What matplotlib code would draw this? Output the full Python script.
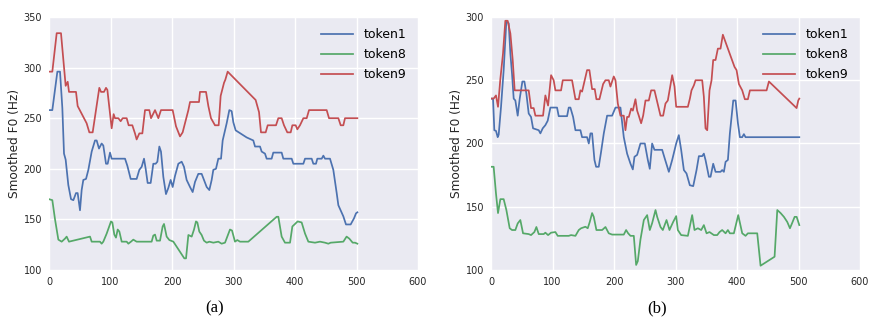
import matplotlib
matplotlib.use("Agg")
import matplotlib.pyplot as plt

# (a) smoothed F0 contours
a_t1_x = [0, 5.4, 13.6, 17.9, 21.7, 24.4, 27.1, 31.4, 35.8, 39.6, 43.9, 46.6, 50.4, 53.1, 55.8, 60.2,
          64.0, 69.4, 74.8, 77.5, 81.3, 85.6, 88.3, 92.7, 95.4, 99.2, 101.9, 123.6, 127.4, 132.8, 142.5,
          146.9, 150.7, 154.5, 157.2, 160.4, 165.3, 169.6, 173.4, 176.2, 179.4, 182.1, 185.9, 190.2, 194,
          197.8, 201.1, 204.9, 210.3, 215.7, 219.5, 223.8, 229.3, 233.6, 237.4, 242.8, 248.2, 252, 256.4,
          260.7, 264.5, 267.2, 271.5, 275.3, 279.7, 282.4, 288.9, 293.2, 297, 299.7, 303.5, 321.4, 332.2,
          335, 343.1, 345.8, 351.2, 353.9, 362, 364.7, 378.3, 381, 394.6, 397.3, 413.6, 416.3, 427.1,
          429.8, 434.1, 436.3, 443.4, 446.1, 448.8, 456.9, 462.3, 467.8, 470.5, 478.6, 482.9, 490.5,
          495.9, 499.2, 501.4]
a_t1_y = [258, 258, 296, 296, 260, 215, 209, 184, 170, 169, 176, 176, 159, 179, 189, 190,
          199, 217, 228, 228, 220, 225, 223, 205, 205, 216, 210, 210, 203, 190, 190,
          199, 202, 210, 200, 186, 186, 205, 205, 207, 222, 217, 192, 175, 181,
          189, 182, 193, 205, 207, 202, 189, 182, 177, 187, 195, 195, 189, 182,
          179, 189, 199, 200, 210, 210, 228, 245, 258, 257, 246, 238, 231, 228,
          222, 222, 217, 215, 210, 210, 216, 216, 210, 210, 205, 205, 210, 210,
          205, 205, 210, 210, 213, 210, 210, 199, 176, 164, 153, 145, 145,
          151, 156, 157]

a_t8_x = [0, 5.4, 9.8, 15.2, 20.6, 26, 28.7, 32.5, 66.7, 69.4, 82.9, 85.6, 88.3, 93.8, 100.8, 103,
          106.2, 108.9, 111.7, 114.4, 118.2, 126.3, 129, 133.3, 137.1, 139.8, 142.5, 166.9, 169.6,
          172.4, 175.1, 180.5, 184.8, 187, 191.3, 195.7, 202.2, 207.6, 220, 222.8, 226.6, 232, 235.8,
          239, 241.2, 244.4, 248.2, 252, 256.4, 260.7, 267.2, 275.3, 280.7, 286.2, 294.3, 297.6, 302.4,
          306.2, 310.6, 324.1, 370.2, 372.9, 378.3, 383.7, 391.9, 395.7, 400, 404.3, 410.8, 416.3,
          421.7, 432.5, 440.7, 448.8, 454.2, 458, 478.6, 483.9, 488.3, 493.8, 497.6, 501.4]
a_t8_y = [170, 169, 150, 130, 128, 131, 133, 128, 133, 128, 128, 126, 128, 136, 148, 147,
          135, 132, 140, 138, 128, 128, 126, 128, 130, 129, 128, 128, 134,
          135, 129, 129, 143, 145.5, 133, 129.6, 128, 123, 111.5, 111.5, 134.6, 133, 140,
          148, 147, 138, 134.6, 129, 127, 128, 127, 128, 126, 127, 140, 139, 128,
          129.6, 128, 128, 152.6, 152.6, 133, 127, 127, 143, 145.5, 148, 147, 136,
          128, 127, 128, 127, 126, 127, 128, 133, 131, 127, 127, 126]

a_t9_x = [0, 5.4, 12.5, 19.5, 27.1, 30.4, 32.5, 43.9, 46.6, 61.2, 65.6, 71, 81.8, 84.6, 89.4, 92.7,
          94.9, 101.9, 105.1, 107.3, 112.7, 116.5, 119.8, 126.3, 129.5, 135.5, 139.8, 142.5, 146.9,
          151.8, 156.1, 163.1, 165.9, 172.4, 177.8, 182.1, 201.1, 206.5, 213, 217.3, 226.6, 229.3,
          243.9, 245.5, 255.3, 259.1, 263.4, 269.9, 275.9, 279.1, 284.6, 286.7, 290.5, 336, 341.5,
          344.7, 352.3, 355.6, 369.1, 372.9, 378.3, 382.1, 387.5, 393, 395.7, 401.1, 403.8, 408.1,
          413.6, 419, 422.8, 451.5, 455.3, 470.5, 474.3, 478.6, 481.3, 501.4]
a_t9_y = [296, 296, 334, 334, 282, 286, 276, 276, 262, 245, 236, 236, 280, 276, 276, 280,
          278, 240, 254, 250, 250, 247, 250, 250, 243, 243, 235, 229, 235,
          235, 258, 258, 250, 258, 250, 258, 258, 242, 232, 236, 258, 266,
          266, 276, 276, 262, 250, 243, 243, 272, 285, 288, 296, 268, 256,
          236, 236, 243, 243, 250, 250, 243, 236, 236, 243, 243, 239, 243,
          250, 250, 258, 258, 250, 250, 243, 243, 250, 250]

# (b) smoothed F0 contours
b_t1_x = [0, 3.3, 5.4, 8.1, 10.9, 12.5, 16.3, 20.6, 25, 28.8, 31.5, 34.2, 36.9, 39.6, 43.4, 46.7,
          51, 54.3, 57.5, 61.3, 65.1, 68.4, 77.6, 80.3, 84.1, 88.4, 92.2, 96.6, 107.4, 110.1, 123.7,
          126.4, 129.1, 133.5, 137.3, 145.4, 148.1, 156.2, 159, 161.7, 164.4, 168.2, 170.9, 175.2,
          179, 183.4, 188.8, 196.9, 202.4, 210.5, 215.9, 221.3, 226.8, 230.6, 233.3, 237.6, 243,
          250.1, 255, 258.2, 262, 265.8, 278.3, 282.6, 289.2, 294.6, 301.1, 305.4, 309.2, 313.6,
          317.9, 323.3, 328.8, 334.2, 338, 343.4, 346.1, 348.8, 354.3, 357, 361.3, 365.1, 373.2,
          375.9, 378.7, 381.4, 385.2, 388.4, 393.9, 397.7, 401.5, 404.7, 408.5, 411.2, 413.9, 501.3]
b_t1_y = [235.5, 235.5, 210.5, 210, 205, 207, 229, 258, 297, 295, 271, 255, 235.5, 234, 222, 235.5,
          249, 249, 239.5, 223.7, 221, 212, 210.5, 208, 212, 214.5, 218, 228.4, 228.4, 221.6, 221.6,
          228.4, 228.4, 221, 210.5, 210.5, 205, 205, 200, 208, 208, 187, 181.6, 181.6,
          193.4, 208, 222, 222, 228.4, 228.4, 205, 192, 184, 179.5, 189.5, 191, 200,
          200, 187, 180, 200, 195, 195, 188, 177.6, 187, 200, 206.6, 195, 179,
          176.3, 167, 166.3, 179, 190, 190, 192, 187, 173.7, 173.7, 184, 177.6, 177.6,
          179, 177.6, 185.5, 187, 208, 234, 234, 216, 205, 205, 207.4, 205, 205]

b_t8_x = [0, 4.3, 8.1, 11.4, 15.2, 20.6, 25, 30.4, 34.2, 39.6, 43.4, 47.7, 52.1, 61.3, 65.1, 70.5,
          73.8, 77.6, 85.7, 88.4, 92.8, 97.7, 104.7, 108.5, 126.4, 130.2, 137.3, 142.7, 146.5, 153.5,
          157.3, 160.6, 164.4, 167.1, 171.4, 180.7, 186.1, 191.5, 196.9, 215.9, 219.7, 223, 226.8,
          232.2, 236, 238.7, 243, 248.5, 253.9, 258.2, 262, 267.5, 270.2, 275.6, 279.4, 285.4, 290.2,
          296.2, 301.1, 303.8, 309.2, 320.1, 327.1, 330.9, 336.3, 341.8, 346.1, 350.5, 355.3, 362.4,
          367.8, 371.6, 375.9, 381.4, 385.2, 388.4, 394.9, 402, 408.5, 413.9, 417.7, 432.9, 438.3,
          461.1, 465.5, 470.9, 476.3, 481.7, 486.1, 489.9, 493.7, 497, 501.3]
b_t8_y = [181.6, 181.6, 160.5, 145, 156, 156, 147.4, 133, 131.6, 131.6, 136.8, 139.5, 129, 128.4, 127.6, 130,
          134, 128.4, 128.4, 129.5, 127.6, 129.5, 130, 127, 127, 127.6, 127, 131.6, 133, 134.2,
          133, 138, 145, 142, 131.6, 131.6, 134, 129, 128, 128, 131.6, 129, 127,
          127, 104, 107, 124, 139.5, 143.4, 131.6, 137, 147.4, 142, 134, 131.6, 139.5, 131.6,
          138, 142.6, 131.6, 127.6, 127, 143.4, 131.6, 133, 131.6, 135.5, 129, 130, 127.6,
          127.6, 130, 131.6, 129, 131.6, 129, 129, 143.4, 129, 127, 129, 129, 103.4,
          110.5, 147.4, 145, 142, 138, 133, 137.4, 142, 142, 135.5]

b_t9_x = [0, 4.3, 8.1, 11.4, 15.2, 19.5, 23.3, 27.1, 31.5, 35.3, 38.5, 42.3, 61.3, 65.1, 69.4, 72.2,
          84.6, 88.4, 92.8, 97.7, 101.9, 104.7, 113.9, 116.7, 131.8, 137.3, 142.7, 145.4, 148.1, 151.9,
          156.2, 160, 164.4, 168.7, 171.4, 176.3, 182.3, 186.1, 191.5, 194.2, 199.6, 202.4, 206.2,
          210.5, 215.9, 218.6, 221.3, 224.1, 227.9, 230.6, 234.9, 237.6, 240.3, 244.1, 247.4, 251.2,
          256.6, 260.4, 265.8, 270.2, 275.6, 279.9, 283.7, 287.5, 294.6, 298.4, 301.1, 320.1, 323.4,
          326, 329.9, 332.6, 343.4, 346.1, 348.8, 351.6, 355.3, 358.6, 361.3, 365.1, 368.9, 373.2,
          377, 396, 399.3, 403.1, 408.5, 412.8, 417.7, 421, 448.1, 451.9, 496.9, 499.6, 501.3]
b_t9_y = [235.5, 235.5, 238, 229, 251, 271, 297, 297, 287, 266, 242, 242, 242, 228, 228, 222,
          222, 238, 230, 254, 250, 242, 242, 250, 250, 235, 235, 242, 241, 249,
          258, 258, 243, 243, 235, 235, 247, 250, 250, 245, 253, 250, 231.6,
          222, 222, 210.5, 221, 221, 227.6, 226, 235, 226, 222, 216, 222, 234,
          234, 242, 242, 233, 222, 222, 231.6, 234, 254, 245, 229, 229, 235.5,
          242, 246, 250, 250, 237, 212, 210.5, 242, 250, 266, 266, 275, 275,
          286, 260.5, 258, 247, 242, 235, 235, 242, 242, 249, 228, 234, 235.5]

labels = ["token1", "token8", "token9"]
colors = ["#4C72B0", "#55A868", "#C44E52"]

plt.rcParams.update({
    "font.family": "DejaVu Sans",
    "axes.facecolor": "#EAEAF2",
    "axes.edgecolor": "white",
    "axes.linewidth": 0,
    "grid.color": "white",
    "grid.linewidth": 1.0,
    "xtick.color": "#262626",
    "ytick.color": "#262626",
    "xtick.labelsize": 7,
    "ytick.labelsize": 7,
    "xtick.major.size": 0,
    "ytick.major.size": 0,
})

fig = plt.figure(figsize=(8.88, 3.22), dpi=100)
ax1 = fig.add_axes([49 / 888, 52 / 322, 369 / 888, 253 / 322])
ax2 = fig.add_axes([491 / 888, 52 / 322, 369 / 888, 253 / 322])

panels = [
    (ax1, [(a_t1_x, a_t1_y), (a_t8_x, a_t8_y), (a_t9_x, a_t9_y)], (100, 350), "(a)"),
    (ax2, [(b_t1_x, b_t1_y), (b_t8_x, b_t8_y), (b_t9_x, b_t9_y)], (100, 300), "(b)"),
]

for ax, series, ylim, cap in panels:
    for (xs, ys), lab, c in zip(series, labels, colors):
        ax.plot(xs, ys, color=c, lw=1.25, label=lab)
    ax.set_xlim(0, 600)
    ax.set_ylim(*ylim)
    ax.set_yticks(range(ylim[0], ylim[1] + 1, 50))
    ax.grid(True)
    ax.set_axisbelow(True)
    for s in ax.spines.values():
        s.set_visible(False)
    ax.tick_params(pad=5)
    ax.set_ylabel("Smoothed F0 (Hz)", fontsize=8.7, color="#262626", labelpad=2)
    ax.legend(loc="upper right", frameon=False, fontsize=9, handlelength=2.5,
              handletextpad=0.9, borderaxespad=0.5, labelspacing=0.55)
    ax.text(0.45, -0.12, cap, transform=ax.transAxes, ha="center", va="top",
            fontsize=12, family="Liberation Serif")

fig.savefig("out.png", dpi=100)
